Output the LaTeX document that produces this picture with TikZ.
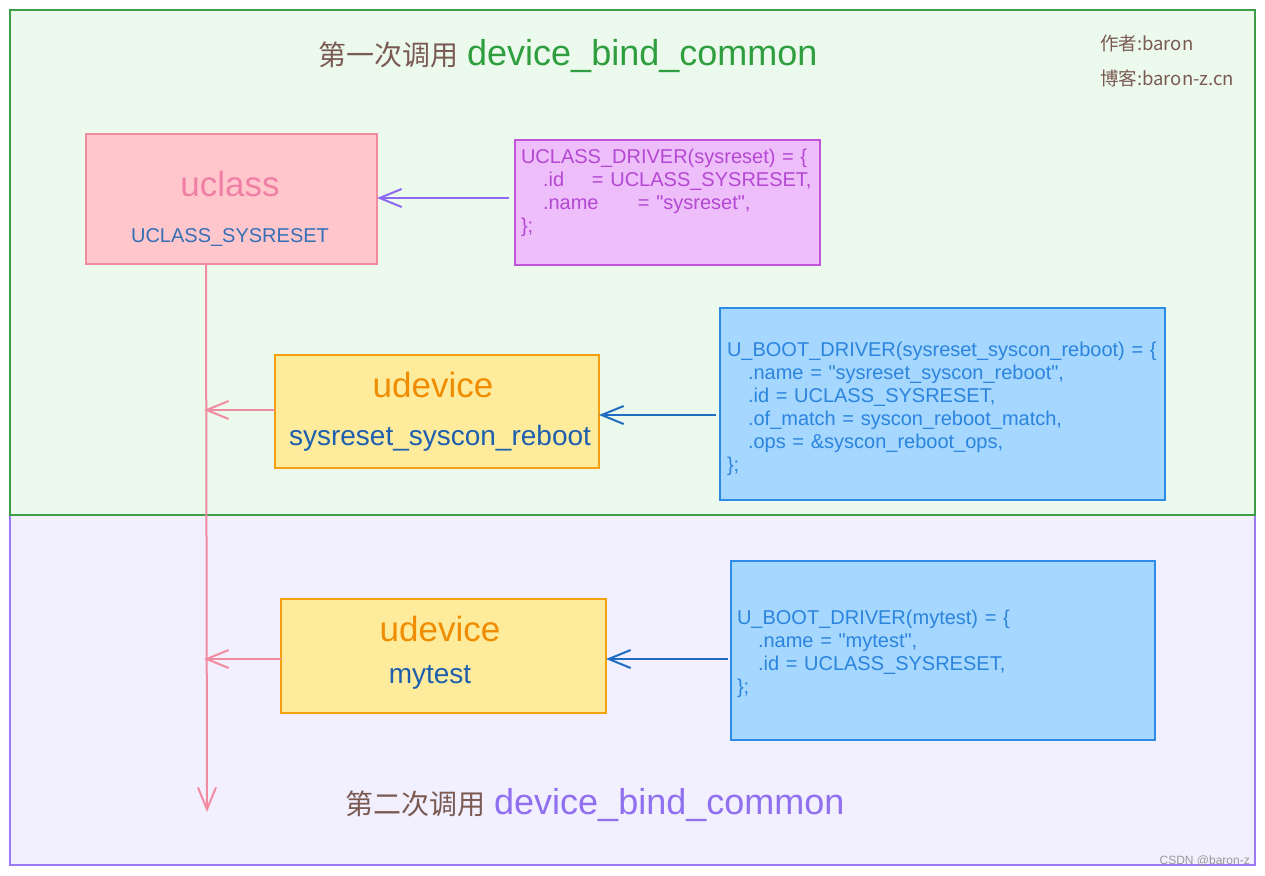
\documentclass[tikz,border=0pt]{standalone}
\usepackage{fontspec}
\setmainfont{Liberation Sans}
\newfontfamily\cjk{Noto Sans CJK SC}
\usetikzlibrary{arrows.meta}
\definecolor{gbg}{HTML}{EBFAEC}
\definecolor{gbd}{HTML}{3E9E48}
\definecolor{pbg}{HTML}{F2F0FE}
\definecolor{pbd}{HTML}{9B7AF5}
\definecolor{ucfill}{HTML}{FFC7CC}
\definecolor{ucdraw}{HTML}{F38BA0}
\definecolor{uctext}{HTML}{F07FA6}
\definecolor{mgfill}{HTML}{EEBEFA}
\definecolor{mgdraw}{HTML}{C055DC}
\definecolor{mgtext}{HTML}{B447D4}
\definecolor{udfill}{HTML}{FFEB9C}
\definecolor{uddraw}{HTML}{F5A010}
\definecolor{udtext}{HTML}{F08C00}
\definecolor{bxfill}{HTML}{A5D7FF}
\definecolor{bxdraw}{HTML}{2E8BE6}
\definecolor{bxtext}{HTML}{2B84DE}
\definecolor{darkblue}{HTML}{1E5FAE}
\definecolor{arrpurple}{HTML}{8D6BF0}
\definecolor{arrpink}{HTML}{F08BA0}
\definecolor{arrblue}{HTML}{1F6CC0}
\definecolor{brown}{HTML}{7A5A52}
\definecolor{titlegreen}{HTML}{2E9E3E}
\definecolor{titlepurple}{HTML}{9070F0}
\newcommand{\q}{\textquotedbl}
\tikzset{
  region/.style={rectangle, inner sep=0pt, outer sep=0pt, line width=2pt},
  box/.style={rectangle, inner sep=0pt, outer sep=0pt, line width=2pt},
  codebox/.style={rectangle, outer sep=0pt, line width=2pt, align=left, inner ysep=0pt,
     font=\fontsize{20}{23}\selectfont},
  bigtext/.style={inner sep=0pt, font=\fontsize{35}{35}\selectfont},
  midtext/.style={inner sep=0pt, font=\fontsize{28}{28}\selectfont},
  smalltext/.style={inner sep=0pt, font=\fontsize{20}{20}\selectfont},
  conn/.style={line width=2pt, -{Straight Barb[length=22pt,width=18pt]}},
}
\begin{document}
\begin{tikzpicture}[x=1pt,y=-1pt]
\useasboundingbox (0,0) rectangle (1265,875);
\fill[white] (0,0) rectangle (1265,875);
% regions
\node[region, fill=pbg, draw=pbd, minimum width=1245pt, minimum height=350pt] (second) at (632.5,690) {};
\node[region, fill=gbg, draw=gbd, minimum width=1245pt, minimum height=505pt] (first) at (632.5,262.5) {};
% titles
\node[anchor=base west, inner sep=0pt] (title1) at (318,65)
  {{\cjk\fontsize{28}{28}\selectfont\color{brown}第一次调用}\hspace{9pt}{\fontsize{36}{36}\selectfont\color{titlegreen}device\_bind\_common}};
\node[anchor=base west, inner sep=0pt] (title2) at (345,814)
  {{\cjk\fontsize{28}{28}\selectfont\color{brown}第二次调用}\hspace{9pt}{\fontsize{36}{36}\selectfont\color{titlepurple}device\_bind\_common}};
\node[anchor=base west, inner sep=0pt, text=brown, font=\cjk\fontsize{18.5}{18.5}\selectfont] (author) at (1100,51) {作者:baron};
\node[anchor=base west, inner sep=0pt, text=brown, font=\cjk\fontsize{18.5}{18.5}\selectfont] (blog) at (1100,85) {博客:baron-z.cn};
\node[anchor=base east, inner sep=0pt, text=gray!80, font=\fontsize{12}{12}\selectfont] (csdn) at (1250,864) {CSDN @baron-z};
% uclass
\node[box, fill=ucfill, draw=ucdraw, minimum width=291pt, minimum height=130pt] (uclass) at (231.5,199) {};
\node[bigtext, text=uctext] (uclasslbl) at (230,184) {uclass};
\node[smalltext, text=darkblue!90!white] (uclasssub) at (230,238) {UCLASS\_SYSRESET};
% magenta code box
\node[codebox, fill=mgfill, draw=mgdraw, text=mgtext, minimum width=305pt, minimum height=125pt,
      text width=293pt, inner xsep=6pt] (uclassdrv) at (667.5,202.5)
  {UCLASS\_DRIVER(sysreset) = \{\\
   \hspace*{22pt}\makebox[49pt][l]{.id}= UCLASS\_SYSRESET,\\
   \hspace*{22pt}\makebox[95pt][l]{.name}= \q sysreset\q,\\
   \};\\ \mbox{}};
% udevice 1
\node[box, fill=udfill, draw=uddraw, minimum width=324pt, minimum height=113pt] (udev1) at (437,411.5) {};
\node[bigtext, text=udtext] (udev1lbl) at (433,385) {udevice};
\node[midtext, text=darkblue] (udev1sub) at (440,438) {sysreset\_syscon\_reboot};
% blue code box 1
\node[codebox, fill=bxfill, draw=bxdraw, text=bxtext, minimum width=445pt, minimum height=192pt,
      text width=431pt, inner xsep=7pt] (drv1) at (942.5,404)
  {\rule{0pt}{24pt}U\_BOOT\_DRIVER(sysreset\_syscon\_reboot) = \{\\
   \hspace*{21pt}.name = \q sysreset\_syscon\_reboot\q,\\
   \hspace*{21pt}.id = UCLASS\_SYSRESET,\\
   \hspace*{21pt}.of\_match = syscon\_reboot\_match,\\
   \hspace*{21pt}.ops = \&syscon\_reboot\_ops,\\
   \};};
% udevice 2
\node[box, fill=udfill, draw=uddraw, minimum width=325pt, minimum height=114pt] (udev2) at (443.5,656) {};
\node[bigtext, text=udtext] (udev2lbl) at (440,629) {udevice};
\node[midtext, text=darkblue] (udev2sub) at (430,677) {mytest};
% blue code box 2
\node[codebox, fill=bxfill, draw=bxdraw, text=bxtext, minimum width=424pt, minimum height=179pt,
      text width=412pt, inner xsep=6pt] (drv2) at (943,650.5)
  {\rule{0pt}{22pt}U\_BOOT\_DRIVER(mytest) = \{\\
   \hspace*{21pt}.name = \q mytest\q,\\
   \hspace*{21pt}.id = UCLASS\_SYSRESET,\\
   \};};
% connectors
\coordinate (lineend) at (207,812);
\draw[conn, arrpink] ([xshift=-25.5pt]uclass.south) -- (lineend);
\draw[conn, arrpurple] ([xshift=-6pt,yshift=4.5pt]uclassdrv.west) -- ([yshift=4.5pt]uclassdrv.west -| uclass.east);
\draw[conn, arrblue] ([xshift=-4pt,yshift=-11pt]drv1.west) -- ([yshift=-11pt]drv1.west -| udev1.east);
\draw[conn, arrblue] ([xshift=-3pt,yshift=-8.5pt]drv2.west) -- ([yshift=-8.5pt]drv2.west -| udev2.east);
\draw[conn, arrpink] ([yshift=1.5pt]udev1.west) -- ([xshift=-3pt,yshift=1.5pt]udev1.west -| lineend);
\draw[conn, arrpink] ([yshift=-3pt]udev2.west) -- ([xshift=-3pt,yshift=-3pt]udev2.west -| lineend);
\end{tikzpicture}
\end{document}
